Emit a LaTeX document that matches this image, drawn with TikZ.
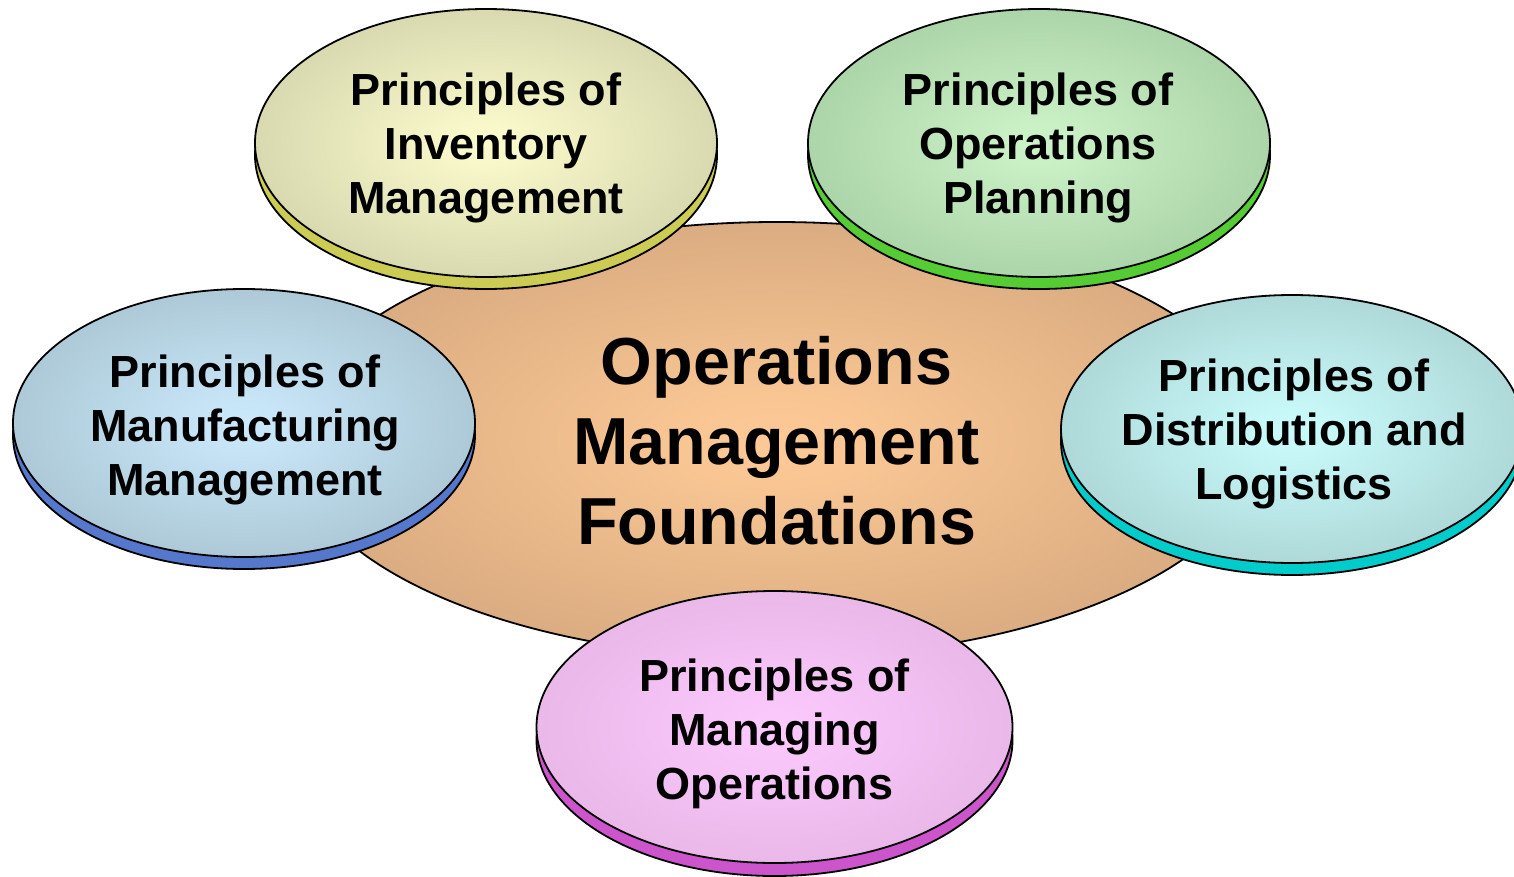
\documentclass[tikz,border=0pt]{standalone}
\usepackage{fontspec}
\setmainfont{Liberation Sans}
\usetikzlibrary{shapes.geometric}
\pgfdeclareradialshading{invS}{\pgfpoint{0bp}{0bp}}{rgb(0bp)=(0.98,0.98,0.80); rgb(4bp)=(0.97,0.97,0.79); rgb(32bp)=(0.81,0.815,0.655); rgb(50bp)=(0.81,0.815,0.655)}
\pgfdeclareradialshading{planS}{\pgfpoint{0bp}{0bp}}{rgb(0bp)=(0.80,0.95,0.78); rgb(4bp)=(0.79,0.94,0.77); rgb(32bp)=(0.635,0.80,0.627); rgb(50bp)=(0.635,0.80,0.627)}
\pgfdeclareradialshading{manuS}{\pgfpoint{0bp}{0bp}}{rgb(0bp)=(0.79,0.91,0.98); rgb(4bp)=(0.78,0.90,0.97); rgb(32bp)=(0.647,0.753,0.804); rgb(50bp)=(0.647,0.753,0.804)}
\pgfdeclareradialshading{distS}{\pgfpoint{0bp}{0bp}}{rgb(0bp)=(0.79,0.98,0.98); rgb(4bp)=(0.78,0.97,0.97); rgb(32bp)=(0.655,0.812,0.812); rgb(50bp)=(0.655,0.812,0.812)}
\pgfdeclareradialshading{mngS}{\pgfpoint{0bp}{0bp}}{rgb(0bp)=(0.99,0.79,0.99); rgb(4bp)=(0.98,0.78,0.98); rgb(32bp)=(0.894,0.706,0.894); rgb(50bp)=(0.894,0.706,0.894)}
\pgfdeclareradialshading{ctrS}{\pgfpoint{0bp}{0bp}}{rgb(0bp)=(0.99,0.79,0.59); rgb(4bp)=(0.98,0.78,0.58); rgb(34bp)=(0.804,0.63,0.475); rgb(50bp)=(0.804,0.63,0.475)}
\definecolor{invRim}{RGB}{204,204,85}
\definecolor{planRim}{RGB}{85,204,51}
\definecolor{manuRim}{RGB}{85,119,204}
\definecolor{distRim}{RGB}{0,204,204}
\definecolor{mngRim}{RGB}{204,85,204}
\tikzset{
  disk/.style={ellipse, draw=black, line width=1.8pt, inner sep=0pt,
    minimum width=462pt, minimum height=268pt},
  rimdisk/.style={disk},
  label text/.style={align=center, font=\bfseries\fontsize{45}{54}\selectfont, inner sep=0pt},
  center text/.style={align=center, font=\bfseries\fontsize{66.5}{80}\selectfont, inner sep=0pt}
}
\begin{document}
\begin{tikzpicture}[x=1pt,y=-1pt]
\useasboundingbox (0,0) rectangle (1514,877);
\clip (0,0) rectangle (1514,877);
% central
\node[ellipse, draw=black, line width=1.8pt, inner sep=0pt, minimum width=970pt, minimum height=436pt, shading=ctrS] (ctr) at (777,440) {};
\node[center text] (ctrT) at (776.5,441) {Operations\\Management\\Foundations};
% inventory
\node[rimdisk, fill=invRim] (invR) at (486,155) {};
\node[disk, shading=invS] (inv) at (486,143) {};
\node[label text] (invT) at (486,148) {Principles of\\Inventory\\Management};
% planning
\node[rimdisk, fill=planRim] (planR) at (1039,155) {};
\node[disk, shading=planS] (plan) at (1039,143) {};
\node[label text] (planT) at (1038,148) {Principles of\\Operations\\Planning};
% manufacturing
\node[rimdisk, fill=manuRim] (manuR) at (244,435) {};
\node[disk, shading=manuS] (manu) at (244,423) {};
\node[label text] (manuT) at (245,430) {Principles of\\Manufacturing\\Management};
% distribution
\node[rimdisk, fill=distRim] (distR) at (1292,441) {};
\node[disk, shading=distS] (dist) at (1292,429) {};
\node[label text] (distT) at (1294,434) {Principles of\\Distribution and\\Logistics};
% managing
\node[disk, minimum width=476pt, minimum height=272pt, fill=mngRim] (mngR) at (774.5,740) {};
\node[disk, minimum width=476pt, minimum height=272pt, shading=mngS] (mng) at (774.5,727) {};
\node[label text] (mngT) at (774.5,733.5) {Principles of\\Managing\\Operations};
\end{tikzpicture}
\end{document}
